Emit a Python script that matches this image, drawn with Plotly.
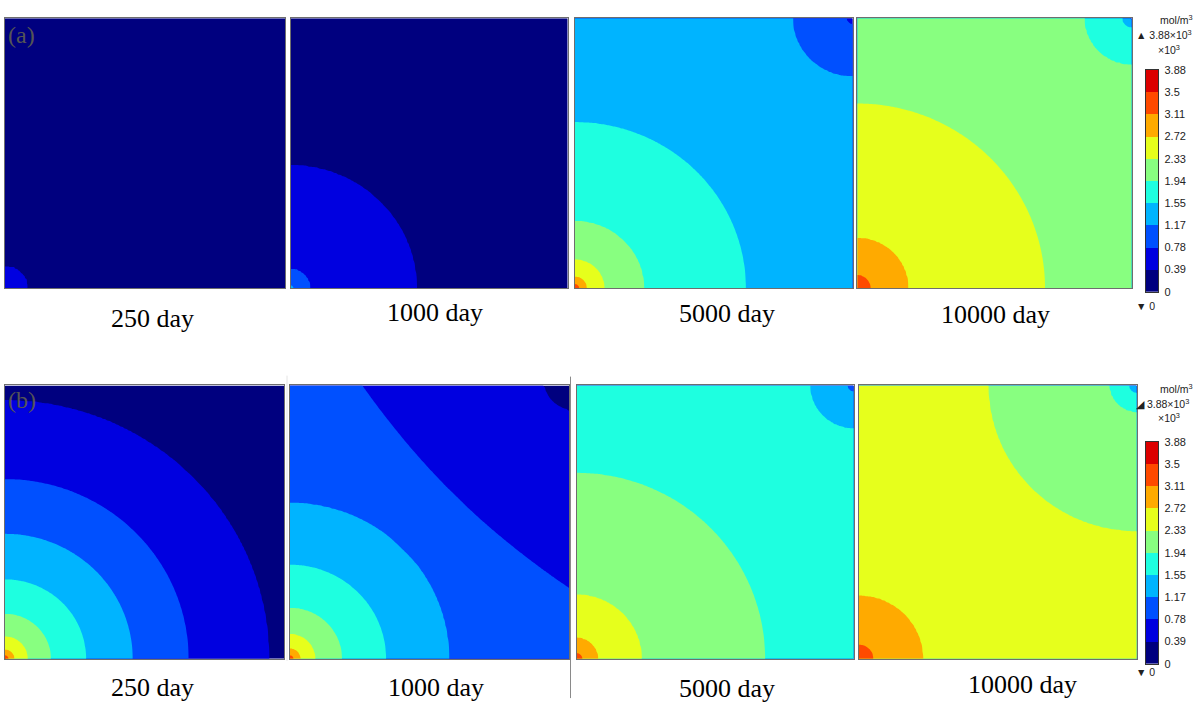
import numpy as np
import plotly.graph_objects as go

W, H = 1197, 709

# ---------------- data ----------------
LEVELS = [0.0, 0.388, 0.776, 1.164, 1.552, 1.94, 2.328, 2.716, 3.104, 3.492, 3.88]
TICK_TEXT = ["0", "0.39", "0.78", "1.17", "1.55", "1.94", "2.33", "2.72", "3.11", "3.5", "3.88"]
BAND_COLORS = ["#00007F", "#0000E0", "#0050FF", "#00B4FF", "#1EFFE0",
               "#88FF80", "#E6FF1C", "#FFAA00", "#FF4A00", "#DC0000"]
DAY_LABELS = ["250 day", "1000 day", "5000 day", "10000 day"]

# concentration (x10^3 mol/m^3) vs normalised distance from the bottom-left (source) corner
A250_SRC_R = [0.0, 0.08, 1.42]
A250_SRC_C = [0.70, 0.388, 0.05]
A1000_SRC_R = [0.0, 0.01, 0.07, 0.455, 1.42]
A1000_SRC_C = [1.30, 1.164, 0.776, 0.388, 0.10]
A5000_SRC_R = [0.0, 0.015, 0.042, 0.105, 0.248, 0.615, 0.90, 1.42]
A5000_SRC_C = [3.30, 3.104, 2.716, 2.328, 1.94, 1.552, 1.35, 1.35]
A10000_SRC_R = [0.0, 0.048, 0.185, 0.684, 1.0, 1.42]
A10000_SRC_C = [3.30, 3.104, 2.716, 2.328, 2.10, 2.10]
B250_SRC_R = [0.0, 0.012, 0.033, 0.081, 0.164, 0.29, 0.457, 0.657, 0.945, 1.42]
B250_SRC_C = [3.60, 3.104, 2.716, 2.328, 1.94, 1.552, 1.164, 0.776, 0.388, 0.20]
B1000_SRC_R = [0.0, 0.012, 0.037, 0.09, 0.186, 0.344, 0.57, 1.42]
B1000_SRC_C = [3.40, 3.104, 2.716, 2.328, 1.94, 1.552, 1.164, 0.603]
B5000_SRC_R = [0.0, 0.02, 0.076, 0.234, 0.68, 0.95, 1.42]
B5000_SRC_C = [3.30, 3.104, 2.716, 2.328, 1.94, 1.75, 1.75]
B10000_SRC_R = [0.0, 0.051, 0.23, 0.5, 1.42]
B10000_SRC_C = [3.35, 3.104, 2.716, 2.5, 2.5]

# concentration drop vs normalised distance from the top-right (sink) corner
A250_SINK_R = [0.0, 2.0]
A250_SINK_D = [0.0, 0.0]
A1000_SINK_R = [0.0, 2.0]
A1000_SINK_D = [0.0, 0.0]
A5000_SINK_R = [0.0, 0.02, 0.214, 0.45, 2.0]
A5000_SINK_D = [0.75, 0.574, 0.186, 0.0, 0.0]
A10000_SINK_R = [0.0, 0.033, 0.17, 0.40, 2.0]
A10000_SINK_D = [1.0, 0.548, 0.16, 0.0, 0.0]
B250_SINK_R = [0.0, 2.0]
B250_SINK_D = [0.0, 0.0]
B1000_SINK_R = [0.0, 0.086, 0.573, 0.85, 2.0]
B1000_SINK_D = [0.50, 0.262, 0.209, 0.0, 0.0]
B5000_SINK_R = [0.0, 0.021, 0.155, 0.40, 2.0]
B5000_SINK_D = [0.75, 0.586, 0.198, 0.0, 0.0]
B10000_SINK_R = [0.0, 0.026, 0.095, 0.532, 1.0, 2.0]
B10000_SINK_D = [1.3, 0.948, 0.56, 0.172, 0.0, 0.0]

PANELS = [
    (A250_SRC_R, A250_SRC_C, A250_SINK_R, A250_SINK_D),
    (A1000_SRC_R, A1000_SRC_C, A1000_SINK_R, A1000_SINK_D),
    (A5000_SRC_R, A5000_SRC_C, A5000_SINK_R, A5000_SINK_D),
    (A10000_SRC_R, A10000_SRC_C, A10000_SINK_R, A10000_SINK_D),
    (B250_SRC_R, B250_SRC_C, B250_SINK_R, B250_SINK_D),
    (B1000_SRC_R, B1000_SRC_C, B1000_SINK_R, B1000_SINK_D),
    (B5000_SRC_R, B5000_SRC_C, B5000_SINK_R, B5000_SINK_D),
    (B10000_SRC_R, B10000_SRC_C, B10000_SINK_R, B10000_SINK_D),
]

# ---------------- layout (pixel boxes) ----------------
PANEL_X = [(5, 285), (290.5, 567.7), (575, 852.7), (857.3, 1131.7),
           (5, 284.3), (290, 569), (576.7, 853.7), (859, 1136.7)]
PANEL_Y = [(12.5, 287)] * 4 + [(386, 664)] * 4
CBAR_X = (1145.7, 1158.3)
CBAR_Y = [(65, 290.7), (443.3, 669)]


def px_x(x):
    return x / W


def px_y(y):
    return 1 - y / H


grid = np.unique(np.round(np.concatenate([
    np.linspace(0, 1, 141),
    np.geomspace(0.0005, 0.1, 25),
    1 - np.geomspace(0.0005, 0.1, 25)]), 6))
U, V = np.meshgrid(grid, grid)
R1 = np.hypot(U, V)
R2 = np.hypot(1 - U, 1 - V)

cs = 0.388
start, end = LEVELS[1], LEVELS[-2]
n_bands = len(BAND_COLORS)
contour_scale = [[k / (n_bands - 1), BAND_COLORS[k]] for k in range(n_bands)]
zlo, zhi = start - cs / 2, end + cs / 2

fig = go.Figure()
layout = dict(width=W, height=H, margin=dict(l=0, r=0, t=0, b=0),
              paper_bgcolor="white", plot_bgcolor="white", showlegend=False)

for i, (sr, sc, kr, kd) in enumerate(PANELS):
    n = i + 1
    z = np.interp(R1, sr, sc) - np.interp(R2, kr, kd)
    z = np.clip(z, 0.02, 3.86)
    fig.add_trace(go.Contour(
        x=grid, y=grid, z=np.round(z, 4).tolist(),
        xaxis=f"x{n}", yaxis=f"y{n}",
        autocontour=False,
        contours=dict(start=start, end=end, size=cs, coloring="fill", showlines=False),
        line=dict(width=0),
        colorscale=contour_scale, zmin=zlo, zmax=zhi,
        showscale=False, hoverinfo="skip"))
    ax = dict(range=[0, 1], showgrid=False, zeroline=False, showticklabels=False,
              ticks="", showline=True, mirror=True, linecolor="#6e6e6e", linewidth=1,
              fixedrange=True)
    layout[f"xaxis{n}"] = dict(ax, domain=[px_x(PANEL_X[i][0]), px_x(PANEL_X[i][1])], anchor=f"y{n}")
    layout[f"yaxis{n}"] = dict(ax, domain=[px_y(PANEL_Y[i][1]), px_y(PANEL_Y[i][0])], anchor=f"x{n}")

# colour bars
bar_scale = [[k / (n_bands - 1), BAND_COLORS[k]] for k in range(n_bands)]
mids = [(LEVELS[k] + LEVELS[k + 1]) / 2 for k in range(n_bands)]
for j in range(2):
    n = 9 + j
    fig.add_trace(go.Heatmap(
        x=[0], y=mids, z=[[m] for m in mids],
        xaxis=f"x{n}", yaxis=f"y{n}",
        colorscale=bar_scale, zmin=mids[0], zmax=mids[-1],
        showscale=False, hoverinfo="skip"))
    layout[f"xaxis{n}"] = dict(domain=[px_x(CBAR_X[0]), px_x(CBAR_X[1])], anchor=f"y{n}",
                               range=[-0.5, 0.5], showgrid=False, zeroline=False,
                               showticklabels=False, ticks="", showline=True, mirror=True,
                               linecolor="#333", linewidth=1, fixedrange=True)
    layout[f"yaxis{n}"] = dict(domain=[px_y(CBAR_Y[j][1]), px_y(CBAR_Y[j][0])], anchor=f"x{n}",
                               range=[LEVELS[0], LEVELS[-1]], side="right",
                               tickmode="array", tickvals=LEVELS, ticktext=TICK_TEXT,
                               ticks="outside", ticklen=3, tickcolor="rgba(0,0,0,0)",
                               tickfont=dict(family="Liberation Sans, Arial", size=11, color="#222"),
                               showgrid=False, zeroline=False, showline=True, mirror=True,
                               linecolor="#333", linewidth=1, fixedrange=True)

ann = []
serif = "Liberation Serif, Times New Roman, serif"
sans = "Liberation Sans, Arial, sans-serif"
LABEL_POS = [(152, 318), (435, 312), (727, 313), (995, 314),
             (152, 693), (436, 693), (727, 694), (1022, 690)]
for i, (x, y) in enumerate(LABEL_POS):
    ann.append(dict(x=px_x(x), y=px_y(y), xref="paper", yref="paper", showarrow=False,
                    text=DAY_LABELS[i % 4], xanchor="center", yanchor="middle",
                    font=dict(family=serif, size=26, color="#000")))
for txt, (x, y) in [("(a)", (21, 30)), ("(b)", (22, 401))]:
    ann.append(dict(x=px_x(x), y=px_y(y), xref="paper", yref="paper", showarrow=False,
                    text=txt, xanchor="center", yanchor="middle",
                    font=dict(family=serif, size=24, color="#555")))
for j, (ytop, tri) in enumerate([(0, "▲"), (375, "◢")]):
    ann.append(dict(x=px_x(1195), y=px_y(ytop + 14), xref="paper", yref="paper", showarrow=False,
                    text="mol/m<sup>3</sup>", xanchor="right", yanchor="middle",
                    font=dict(family=sans, size=10.5, color="#222")))
    ann.append(dict(x=px_x(1134), y=px_y(ytop + 29), xref="paper", yref="paper", showarrow=False,
                    text=f"{tri} 3.88×10<sup>3</sup>", xanchor="left", yanchor="middle",
                    font=dict(family=sans, size=10.5, color="#222")))
    ann.append(dict(x=px_x(1169), y=px_y(ytop + 44), xref="paper", yref="paper", showarrow=False,
                    text="×10<sup>3</sup>", xanchor="center", yanchor="middle",
                    font=dict(family=sans, size=10.5, color="#222")))
for y in (305, 677):
    ann.append(dict(x=px_x(1134), y=px_y(y), xref="paper", yref="paper", showarrow=False,
                    text="▼ 0", xanchor="left", yanchor="middle",
                    font=dict(family=sans, size=10.5, color="#222")))
layout["annotations"] = ann
layout["shapes"] = [
    dict(type="line", xref="paper", yref="paper", x0=px_x(570.5), x1=px_x(570.5),
         y0=px_y(377), y1=px_y(704), line=dict(color="#8a8a8a", width=1)),
    dict(type="line", xref="paper", yref="paper", x0=px_x(287), x1=px_x(287),
         y0=px_y(376), y1=px_y(666), line=dict(color="#e4e4e4", width=1)),
]

fig.update_layout(**layout)
fig.write_html("out.html", config={"displayModeBar": False},
               post_script="document.body.style.margin='0';document.body.style.overflow='hidden';")
